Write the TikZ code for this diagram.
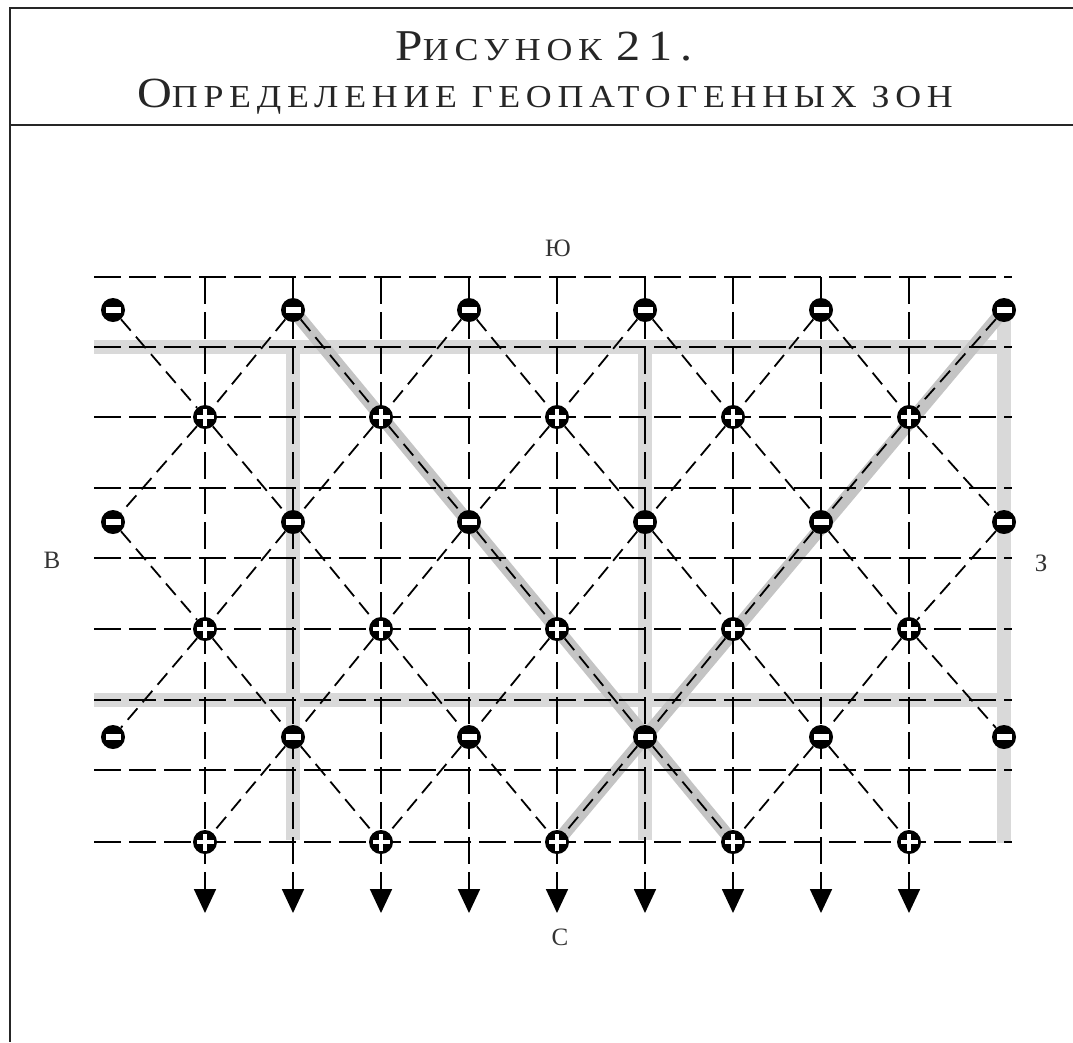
\documentclass[tikz,border=0pt]{standalone}
\usepackage{fontspec}
\setmainfont{Liberation Serif}
\newfontfamily\titlefont[LetterSpace=18,FakeStretch=1.12]{Liberation Serif}
\usetikzlibrary{arrows.meta}
\definecolor{framecol}{HTML}{262626}
\definecolor{bandgrey}{HTML}{D9D9D9}
\definecolor{diaggrey}{HTML}{C4C4C4}
\definecolor{labelcol}{HTML}{333333}
\begin{document}
\begin{tikzpicture}[x=1pt,y=-1pt,
  frameline/.style={draw=framecol, line width=2.4pt},
  band/.style={draw=bandgrey, line width=14pt},
  diagband/.style={draw=diaggrey, line width=13pt},
  gridline/.style={draw=black, line width=1.8pt, dash pattern=on 27pt off 8pt},
  diagline/.style={draw=black, line width=1.8pt, dash pattern=on 15pt off 8pt},
  arrowline/.style={gridline, -{Triangle[width=22pt,length=24pt]}},
  minusnode/.style={circle, fill=black, minimum size=24pt, inner sep=0pt,
    path picture={\fill[white] ([xshift=-7.5pt,yshift=-2.8pt]path picture bounding box.center)
      rectangle ([xshift=7.5pt,yshift=2.8pt]path picture bounding box.center);}},
  plusnode/.style={circle, fill=black, minimum size=24pt, inner sep=0pt,
    path picture={\fill[white] ([xshift=-8.5pt,yshift=-2.3pt]path picture bounding box.center)
      rectangle ([xshift=8.5pt,yshift=2.3pt]path picture bounding box.center);
      \fill[white] ([xshift=-2.3pt,yshift=-8.5pt]path picture bounding box.center)
      rectangle ([xshift=2.3pt,yshift=8.5pt]path picture bounding box.center);}},
  lbl/.style={text=labelcol, font=\fontsize{25}{25}\selectfont, inner sep=0pt}
]
\useasboundingbox[fill=white] (0,0) rectangle (1073,1042);

% frame
\draw[frameline] (1073,8) -- (10,8) -- (10,1042);
\draw[frameline] (10,125) -- (1073,125);

% title
\node[anchor=base, text=framecol, inner sep=0pt] (title1) at (544,60)
  {\titlefont{\fontsize{44}{44}\selectfont Р}{\fontsize{32}{32}\selectfont ИСУНОК }{\fontsize{43}{43}\selectfont 21.}};
\node[anchor=base, text=framecol, inner sep=0pt] (title2) at (545,107)
  {\titlefont{\fontsize{43}{43}\selectfont О}{\fontsize{32}{32}\selectfont ПРЕДЕЛЕНИЕ ГЕОПАТОГЕННЫХ ЗОН}};

% lattice coordinates
\foreach \x [count=\k from 0] in {113,293,469,645,821,1004}{
  \pgfmathtruncatemacro\ii{2*\k}
  \coordinate (c-\ii-0) at (\x,310);
  \coordinate (c-\ii-2) at (\x,522);
  \coordinate (c-\ii-4) at (\x,737);
}
\foreach \x [count=\k from 0] in {205,381,557,733,909}{
  \pgfmathtruncatemacro\ii{2*\k+1}
  \coordinate (c-\ii-1) at (\x,417);
  \coordinate (c-\ii-3) at (\x,629);
  \coordinate (c-\ii-5) at (\x,842);
}

% grey bands
\draw[band] (94,347) -- (1011,347);
\draw[band] (94,700) -- (1011,700);
\draw[band] (293,347) -- (293,840);
\draw[band] (645,347) -- (645,840);
\draw[band] (1004,316) -- (1004,843);
\draw[diagband] (c-2-0) -- (c-7-5);
\draw[diagband] (c-10-0) -- (c-5-5);

% horizontal grid
\foreach \y in {277,347,417,488,558,629,700,770,842}{
  \draw[gridline] (94,\y) -- (1012,\y);
}
% vertical grid with arrows
\foreach \x [count=\k] in {205,293,381,469,557,645,733,821,909}{
  \coordinate (top-\k) at (\x,277);
  \coordinate (tip-\k) at (\x,913);
  \draw[arrowline] (top-\k) -- (tip-\k);
}

% nodes
\foreach \r in {0,2,4}{
  \foreach \i in {0,2,4,6,8,10}{
    \node[minusnode] (n-\i-\r) at (c-\i-\r) {};
  }
}
\foreach \r in {1,3,5}{
  \foreach \i in {1,3,5,7,9}{
    \node[plusnode] (n-\i-\r) at (c-\i-\r) {};
  }
}

% dashed diagonals
\foreach \r in {0,...,4}{
  \foreach \i in {0,...,10}{
    \pgfmathtruncatemacro\dr{(mod(\i+\r,2)==0) && (\i<10) && !((\i==0) && (\r==4))}
    \pgfmathtruncatemacro\dl{(mod(\i+\r,2)==0) && (\i>0) && !((\i==10) && (\r==4))}
    \pgfmathtruncatemacro\ia{\i+1}
    \pgfmathtruncatemacro\ib{\i-1}
    \pgfmathtruncatemacro\rn{\r+1}
    \ifnum\dr=1 \draw[diagline] (n-\i-\r) -- (n-\ia-\rn); \fi
    \ifnum\dl=1 \draw[diagline] (n-\i-\r) -- (n-\ib-\rn); \fi
  }
}

% compass labels
\node[lbl] (south) at (558,248) {Ю};
\node[lbl] (east) at (52,560) {В};
\node[lbl] (west) at (1041,563) {З};
\node[lbl] (north) at (560,937) {С};
\end{tikzpicture}
\end{document}
